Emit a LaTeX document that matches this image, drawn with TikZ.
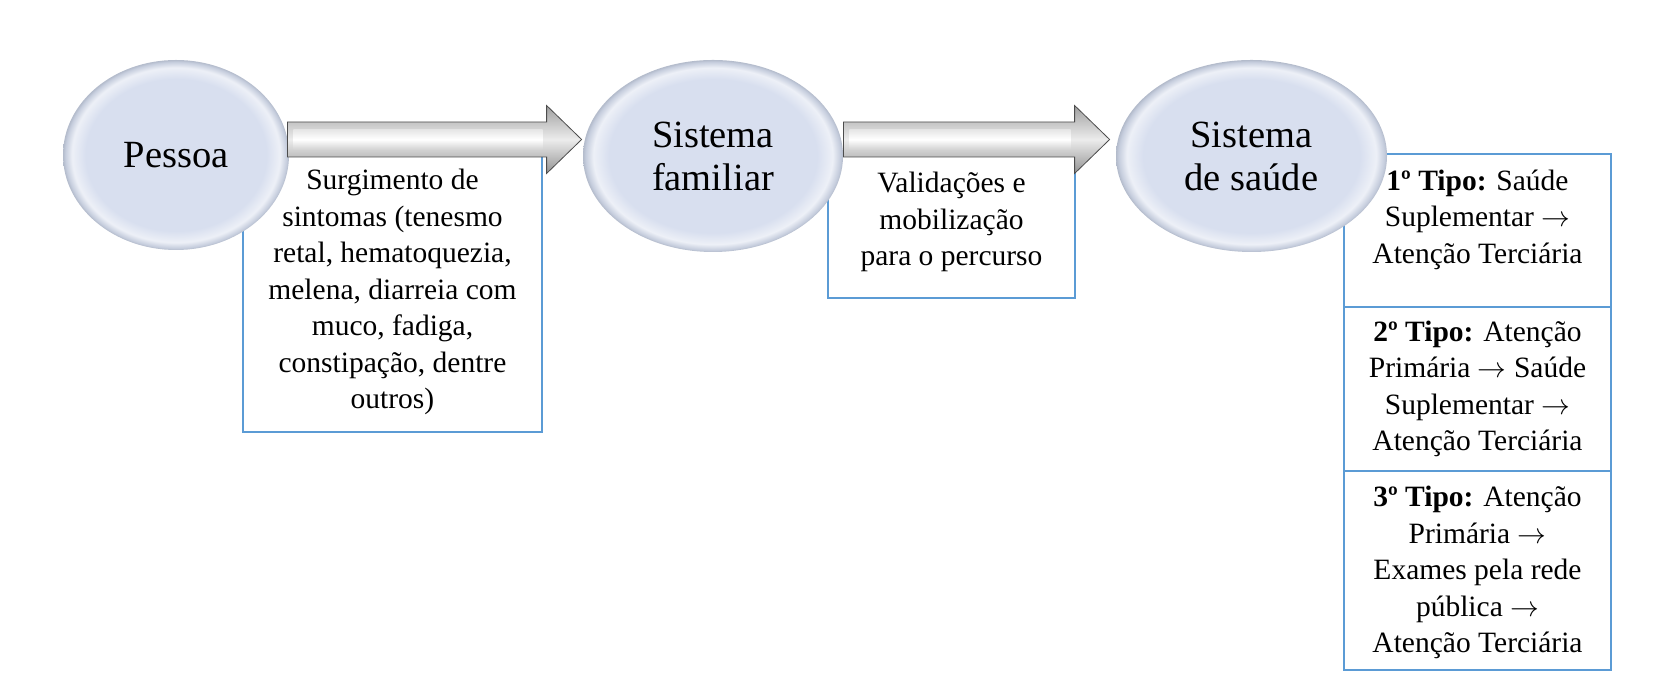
\documentclass[tikz,border=0pt]{standalone}
\usepackage{fontspec}
\setmainfont{Liberation Serif}
\usetikzlibrary{shapes.geometric,positioning,calc}

\definecolor{ellfill}{HTML}{D8DFEF}
\definecolor{ellhi}{HTML}{EDF0F7}
\definecolor{ellrim}{HTML}{B3BBCB}
\definecolor{boxblue}{HTML}{5B9BD5}
\pgfdeclareradialshading{ellbevel}{\pgfpoint{0bp}{0bp}}{color(0bp)=(ellfill); color(20bp)=(ellfill); color(23bp)=(ellhi); color(24.5bp)=(ellfill!50!ellrim); color(25bp)=(ellrim); color(50bp)=(ellrim)}

% grey block arrow from #1 to the tip #2
\newcommand{\blockarrow}[2]{%
  \path[arrowbody] let \p1=(#1), \p2=(#2) in
    (\x1,\y1+8.75pt) -- (\x2-17.5pt,\y1+8.75pt) -- (\x2-17.5pt,\y1+17pt) -- (\x2,\y1)
    -- (\x2-17.5pt,\y1-17pt) -- (\x2-17.5pt,\y1-8.75pt) -- (\x1,\y1-8.75pt) -- cycle;
  \path[arrowcore] let \p1=(#1), \p2=(#2) in
    (\x1+3pt,\y1+5pt) -- (\x2-19.5pt,\y1+5pt) -- (\x2-19.5pt,\y1-5pt) -- (\x1+3pt,\y1-5pt) -- cycle;}

\newcommand{\nxt}{\(\rightarrow\)}

\begin{document}
\begin{tikzpicture}[x=0.5pt, y=0.5pt,
  bubble/.style={ellipse, shade, shading=ellbevel, inner sep=0pt, align=center, font=\fontsize{19.25}{21.5}\selectfont},
  infobox/.style={rectangle, draw=boxblue, line width=0.6pt, fill=white, align=center, inner sep=0pt, outer sep=0pt, minimum width=133.5pt, font=\fontsize{14.75}{18.25}\selectfont},
  arrowbody/.style={top color=gray!75, bottom color=gray!85, middle color=gray!15, draw=gray!60!black, line width=0.4pt},
  arrowcore/.style={top color=gray!20, bottom color=gray!35, middle color=white}]
  \useasboundingbox (0,0) rectangle (1667,700);

  % text boxes
  \node[infobox, minimum width=149.5pt, minimum height=140pt] (sintomas) at (392.5,408) {Surgimento de\\ sintomas (tenesmo\\ retal, hematoquezia,\\ melena, diarreia com\\ muco, fadiga,\\ constipação, dentre\\ outros)};
  \node[infobox, minimum width=123.5pt, minimum height=73pt, text depth=6pt] (validacoes) at (951.5,475) {Validações e\\ mobilização\\ para o percurso};
  \node[infobox, minimum height=76.5pt, text depth=14pt] (tipo1) at (1477.5,469.5) {\textbf{1º Tipo:} Saúde\\ Suplementar \nxt\\ Atenção Terciária};
  \node[infobox, minimum height=82pt, below=0pt of tipo1] (tipo2) {\textbf{2º Tipo:} Atenção\\ Primária \nxt{} Saúde\\ Suplementar \nxt\\ Atenção Terciária};
  \node[infobox, minimum height=99.5pt, below=0pt of tipo2, text depth=1pt] (tipo3) {\textbf{3º Tipo:} Atenção\\ Primária \nxt\\ Exames pela rede\\ pública \nxt\\ Atenção Terciária};

  % the three systems
  \node[bubble, minimum width=113pt, minimum height=95pt] (pessoa) at (176,545) {Pessoa};
  \node[bubble, minimum width=130pt, minimum height=96pt] (familiar) at (713,544) {Sistema\\ familiar};
  \node[bubble, minimum width=135.5pt, minimum height=96pt] (saude) at (1251.5,544) {Sistema\\ de saúde};

  % arrows
  \coordinate (a1s) at ($(pessoa.east)+(-2,15.5)$);
  \coordinate (a1e) at ($(familiar.west)+(-1,16.5)$);
  \coordinate (a2s) at ($(familiar.east)+(0,16.5)$);
  \coordinate (a2e) at ($(saude.west)+(-6,16.5)$);
  \blockarrow{a1s}{a1e}
  \blockarrow{a2s}{a2e}
\end{tikzpicture}
\end{document}
